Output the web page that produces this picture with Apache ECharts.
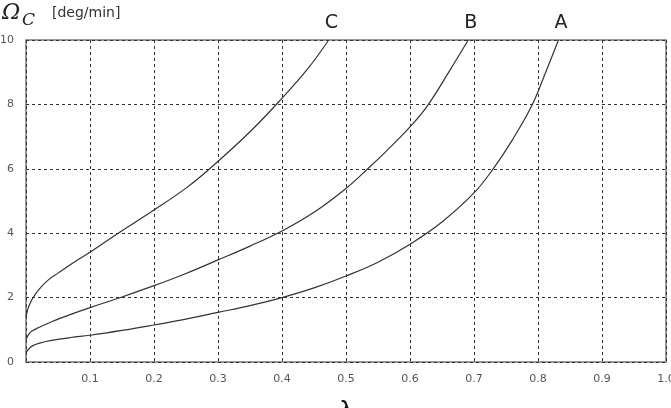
<!DOCTYPE html>
<html>
<head>
<meta charset="utf-8">
<script src="https://cdn.jsdelivr.net/npm/echarts@6/dist/echarts.min.js"></script>
<style>
  html, body { margin: 0; padding: 0; background: #fff; }
  #chart { width: 671px; height: 408px; }
</style>
</head>
<body>
<div id="chart"></div>
<script>
// curve A (lowest)
var xA = [0, 0.005, 0.01, 0.02, 0.04, 0.07, 0.1, 0.15, 0.2, 0.25, 0.3, 0.35, 0.4, 0.45, 0.5, 0.55, 0.6, 0.65, 0.7, 0.73, 0.76, 0.79, 0.81, 0.832];
var yA = [0.3, 0.42, 0.5, 0.58, 0.67, 0.76, 0.83, 0.98, 1.15, 1.33, 1.54, 1.75, 2.0, 2.3, 2.67, 3.1, 3.66, 4.35, 5.25, 6.0, 6.9, 7.95, 8.9, 10];
// curve B
var xB = [0, 0.005, 0.01, 0.02, 0.04, 0.07, 0.1, 0.15, 0.2, 0.25, 0.3, 0.35, 0.4, 0.45, 0.5, 0.534, 0.563, 0.6, 0.628, 0.662, 0.691];
var yB = [0.7, 0.88, 0.97, 1.07, 1.25, 1.48, 1.69, 2.02, 2.37, 2.75, 3.17, 3.6, 4.07, 4.65, 5.39, 6.0, 6.55, 7.3, 7.98, 9.05, 10];
// curve C (top)
var xC = [0, 0.003, 0.006, 0.011, 0.02, 0.035, 0.05, 0.075, 0.1, 0.144, 0.2, 0.25, 0.287, 0.35, 0.4, 0.44, 0.473];
var yC = [1.4, 1.65, 1.8, 2.0, 2.25, 2.55, 2.76, 3.1, 3.41, 4.0, 4.72, 5.4, 6.0, 7.15, 8.19, 9.1, 10];

var curveNames = ['A', 'B', 'C'];

function pairs(xs, ys) {
  var out = [];
  for (var i = 0; i < xs.length; i++) out.push([xs[i], ys[i]]);
  return out;
}

var labelFont = 'DejaVu Sans';
var series = [[xA, yA], [xB, yB], [xC, yC]].map(function(c, i) {
  return {
    name: curveNames[i],
    type: 'line',
    smooth: 0.4,
    showSymbol: false,
    data: pairs(c[0], c[1]),
    lineStyle: { color: '#333', width: 1.2 },
    endLabel: {
      show: true,
      formatter: curveNames[i],
      position: 'top',
      offset: [-12, -17],
      color: '#222',
      fontSize: 19,
      fontFamily: labelFont
    },
    animation: false
  };
});

var chart = echarts.init(document.getElementById('chart'));
chart.setOption({
  animation: false,
  grid: {
    left: 26, right: 5, top: 40, bottom: 46,
    outerBoundsMode: 'none',
    containLabel: false,
    show: true, borderColor: '#777', borderWidth: 1.5
  },
  xAxis: {
    type: 'value', min: 0, max: 1, interval: 0.1,
    axisLine: { show: false },
    axisTick: { show: false },
    axisLabel: {
      color: '#555', fontSize: 11, fontFamily: labelFont, margin: 12,
      formatter: function(v) { return v === 0 ? '' : v.toFixed(1); }
    },
    splitLine: { lineStyle: { color: '#333', width: 1, type: [3, 3] } },
    name: 'λ',
    nameLocation: 'middle',
    nameGap: 39,
    nameTextStyle: { color: '#111', fontSize: 24, fontFamily: labelFont }
  },
  yAxis: {
    type: 'value', min: 0, max: 10, interval: 2,
    axisLine: { show: false },
    axisTick: { show: false },
    axisLabel: { color: '#555', fontSize: 11, fontFamily: labelFont, margin: 12 },
    splitLine: { lineStyle: { color: '#333', width: 1, type: [3, 3] } }
  },
  graphic: [
    { type: 'text', left: 2, top: 2, style: { text: 'Ω', fontSize: 22, fontStyle: 'italic', fontFamily: 'DejaVu Serif', fill: '#222' } },
    { type: 'text', left: 22, top: 12, style: { text: 'C', fontSize: 17, fontStyle: 'italic', fontFamily: 'DejaVu Serif', fill: '#222' } },
    { type: 'text', left: 52, top: 6, style: { text: '[deg/min]', fontSize: 14, fontFamily: labelFont, fill: '#333' } }
  ],
  series: series
});
</script>
</body>
</html>
